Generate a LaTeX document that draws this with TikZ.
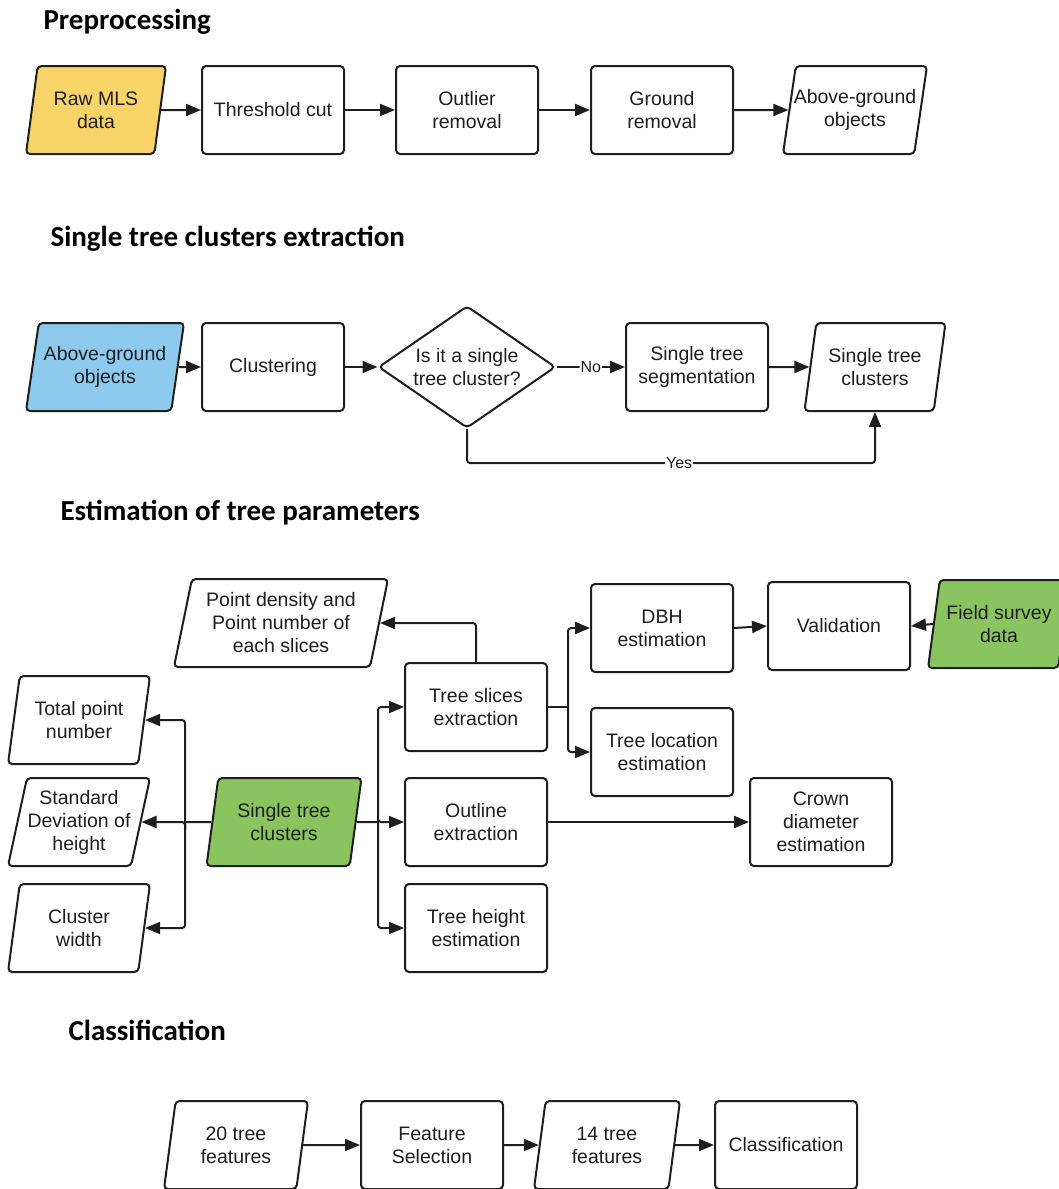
\documentclass[tikz,border=0pt]{standalone}
\usepackage{fontspec}
\setmainfont{Liberation Sans}
\newfontfamily\titulofont{Carlito}
\usetikzlibrary{arrows.meta, shapes.geometric, positioning}
\definecolor{Linea}    {RGB}{30, 30, 30}
\definecolor{Amarillo} {RGB}{248,212,104}
\definecolor{Celeste}  {RGB}{142,202,238}
\definecolor{VerdeHoja}{RGB}{138,196, 94}

\begin{document}
\begin{tikzpicture}[
      x=1pt,y=-1pt,
      caja/.style  ={draw=Linea,line width=2pt,fill=white,text=Linea,
                     rounded corners=4pt,minimum width=142pt,
                     minimum height=88pt,font=\fontsize{19.5}{23}\selectfont,align=center},
      datos/.style ={caja,trapezium,trapezium left angle=75,trapezium right angle=105,
                     trapezium stretches body,inner xsep=-12pt},
      decide/.style={caja,diamond,minimum width=177pt,minimum height=122pt,
                     inner sep=0pt,aspect=1.45},
      titulo/.style={anchor=west,font=\titulofont\bfseries\fontsize{29}{32}\selectfont,text=black},
      etiq/.style  ={fill=white,inner sep=1pt,text=Linea,font=\fontsize{16}{18}\selectfont},
      lin/.style   ={Linea,line width=2pt,rounded corners=3pt},
      fl/.style    ={lin,-{Triangle[length=15pt,width=12pt]}}]
      \useasboundingbox (0,0) rectangle (1058,1189);
      % Preprocessing
      \node[titulo] (t1) at (40,22) {Preprocessing};
      \node[datos,fill=Amarillo,minimum width=140pt] (raw) at (96,110) {Raw MLS\\data};
      \node[caja]  (thr)  at (273,110) {Threshold cut};
      \node[caja]  (outr) at (467,110) {Outlier\\removal};
      \node[caja]  (grd)  at (662,110) {Ground\\removal};
      \node[datos,minimum width=144pt] (abv) at (855,110) {Above-ground\\objects};
      \foreach \a/\b in {raw/thr,thr/outr,outr/grd,grd/abv}
        \draw[fl] (\a)--(\b);
      % Single tree clusters extraction
      \node[titulo] (t2) at (47,239) {Single tree clusters extraction};
      \node[datos,fill=Celeste,minimum width=158pt] (abv2) at (105,367) {Above-ground\\objects};
      \node[caja]   (clus) at (273,367) {Clustering};
      \node[decide] (dec)  at (467,367) {Is it a single\\tree cluster?};
      \node[caja]   (seg)  at (697,367) {Single tree\\segmentation};
      \node[datos,minimum width=141pt] (stc) at (875,367) {Single tree\\clusters};
      \foreach \a/\b in {abv2/clus,clus/dec,seg/stc}
        \draw[fl] (\a)--(\b);
      \draw[fl] (dec)--node[etiq]{No}(seg);
      \draw[fl] (dec.south)--++(0,34) -| node[etiq,pos=0.26]{Yes} (stc.south);
      % Estimation of tree parameters
      \node[titulo] (t3) at (57,513) {Estimation of tree parameters};
      \node[datos,fill=VerdeHoja,minimum width=155pt] (stc3) at (284,822) {Single tree\\clusters};
      \node[datos,minimum width=214pt] (pd) at (281,623) {Point density and\\Point number of\\each slices};
      \node[caja]  (tse)   at (476,707) {Tree slices\\extraction};
      \node[caja]  (dbh)   at (662,628) {DBH\\estimation};
      \node[caja]  (val)   at (839,626) {Validation};
      \node[datos,fill=VerdeHoja] (fsd) at (999,624) {Field survey\\data};
      \node[caja]  (tloc)  at (662,752) {Tree location\\estimation};
      \node[caja]  (outl)  at (476,822) {Outline\\extraction};
      \node[caja]  (crown) at (821,822) {Crown\\diameter\\estimation};
      \node[caja]  (th)    at (476,928) {Tree height\\estimation};
      \node[datos] (tpn)   at (79,720)  {Total point\\number};
      \node[datos] (sd)    at (79,822)  {Standard\\Deviation of\\height};
      \node[datos] (cw)    at (79,928)  {Cluster\\width};
      \coordinate (izq) at (185,822);
      \coordinate (der) at (378,822);
      \coordinate (cor) at (568,707);
      \draw[lin] (stc3.west)--(izq);
      \foreach \t in {tpn,sd,cw}
        \draw[fl] (izq) |- (\t.east);
      \draw[lin] (stc3.east)--(der);
      \foreach \t in {tse,outl,th}
        \draw[fl] (der) |- (\t.west);
      \draw[lin] (tse.east)--(cor);
      \foreach \t in {dbh,tloc}
        \draw[fl] (cor) |- (\t.west);
      \draw[fl] (tse.north) |- (pd.east);
      \draw[fl] (dbh.east)--(val.west);
      \draw[fl] (fsd.west)--(val.east);
      \draw[fl] (outl.east)--(crown.west);
      % Classification
      \node[titulo] (t4) at (65,1030) {Classification};
      \node[datos,minimum width=144pt] (f20)  at (236,1145) {20 tree\\features};
      \node[caja]                      (fsel) at (432,1145) {Feature\\Selection};
      \node[datos,minimum width=146pt] (f14)  at (607,1145) {14 tree\\features};
      \node[caja]                      (cls)  at (786,1145) {Classification};
      \foreach \a/\b in {f20/fsel,fsel/f14,f14/cls}
        \draw[fl] (\a)--(\b);
    \end{tikzpicture}
\end{document}
